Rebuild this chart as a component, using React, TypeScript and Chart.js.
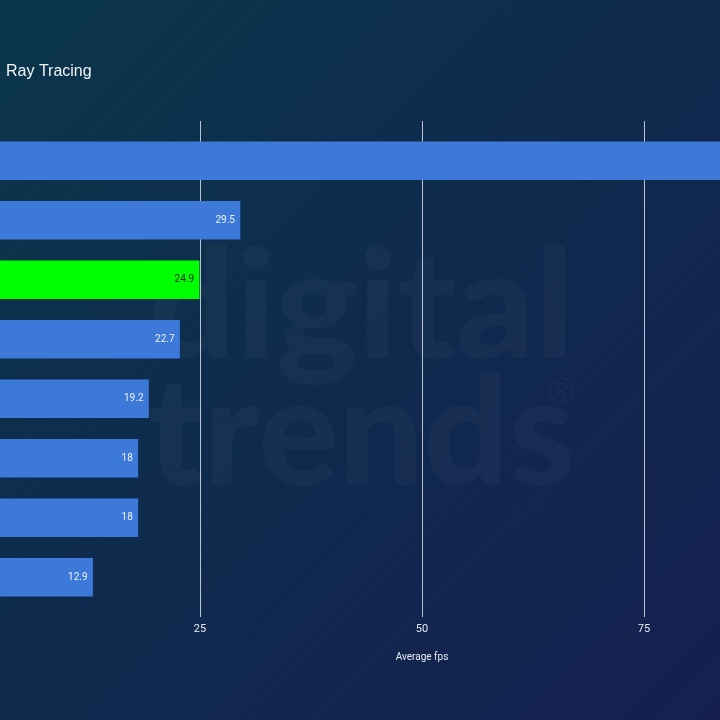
import { useEffect, useRef } from "react";
import { Chart, registerables } from "chart.js";

Chart.register(...registerables);

// ---- data ----
const categories = ["1", "2", "3", "4", "5", "6", "7", "8"];
const values = [88, 29.5, 24.9, 22.7, 19.2, 18, 18, 12.9];
const highlightIndex = 2;
const xMin = 0;
const xMax = 100;
const xTickValues = [25, 50, 75];
const titleText = "Ray Tracing";
const axisTitleText = "Average fps";
const watermarkLines = ["digital", "trends"];

const BAR_BLUE = "#3c79d9";
const BAR_GREEN = "#00ff00";

const decorPlugin = {
  id: "decor",
  beforeDatasetsDraw(chart: any) {
    const { ctx, chartArea, scales } = chart;
    // watermark
    ctx.save();
    ctx.fillStyle = "rgba(255,255,255,0.03)";
    ctx.textBaseline = "alphabetic";
    ctx.textAlign = "left";
    ctx.font = "900 150px Lato";
    const spots = [
      { x: 170, y: 358, w: 426 },
      { x: 169, y: 485, w: 428 },
    ];
    watermarkLines.forEach((t, i) => {
      const s = spots[i];
      const m = ctx.measureText(t).width;
      ctx.save();
      ctx.translate(s.x, s.y);
      ctx.scale(s.w / m, 1);
      ctx.fillText(t, 0, 0);
      ctx.restore();
    });
    ctx.font = "400 34px Lato";
    ctx.textAlign = "center";
    ctx.textBaseline = "middle";
    ctx.fillText("®", 584, 392);
    ctx.restore();

    // gridlines
    const x = scales.x;
    ctx.save();
    ctx.strokeStyle = "rgba(215,222,235,0.85)";
    ctx.lineWidth = 1;
    x.ticks.forEach((t: any) => {
      const px = Math.round(x.getPixelForValue(t.value)) + 0.5;
      ctx.beginPath();
      ctx.moveTo(px, chartArea.top - 10);
      ctx.lineTo(px, chartArea.bottom + 10);
      ctx.stroke();
    });
    ctx.restore();
  },
  afterDatasetsDraw(chart: any) {
    const { ctx } = chart;
    const meta = chart.getDatasetMeta(0);
    ctx.save();
    ctx.font = "400 10px Roboto";
    ctx.textAlign = "right";
    ctx.textBaseline = "middle";
    meta.data.forEach((bar: any, i: number) => {
      ctx.fillStyle = i === highlightIndex ? "#1c241c" : "#eef3fb";
      ctx.fillText(String(values[i]), bar.x - 5, bar.y);
    });
    ctx.restore();

    ctx.save();
    ctx.font = "400 16px 'Liberation Sans', Arial, sans-serif";
    ctx.fillStyle = "#f2f4f7";
    ctx.textAlign = "left";
    ctx.textBaseline = "middle";
    ctx.fillText(titleText, 28, 72);
    ctx.restore();
  },
};

export default function App() {
  const ref = useRef<HTMLCanvasElement | null>(null);

  useEffect(() => {
    if (!ref.current) return;
    Chart.defaults.font.family = "Roboto";
    const chart = new Chart(ref.current, {
      type: "bar",
      data: {
        labels: categories,
        datasets: [
          {
            data: values,
            backgroundColor: values.map((_, i) => (i === highlightIndex ? BAR_GREEN : BAR_BLUE)),
            borderWidth: 0,
            barThickness: 38,
          },
        ],
      },
      options: {
        indexAxis: "y",
        responsive: false,
        devicePixelRatio: 1,
        animation: false,
        layout: { padding: { top: 131, left: 0, right: 0, bottom: 0 } },
        plugins: {
          legend: { display: false },
          tooltip: { enabled: false },
          title: { display: false },
        },
        scales: {
          x: {
            type: "linear",
            min: xMin,
            max: xMax,
            afterBuildTicks: (scale: any) => {
              scale.ticks = xTickValues.map((v) => ({ value: v }));
            },
            afterFit: (scale: any) => {
              scale.height = 113;
              scale.paddingLeft = 0;
              scale.paddingRight = 0;
            },
            ticks: {
              color: "#e6ebf3",
              font: { size: 11, family: "Roboto" },
              padding: 16,
              maxRotation: 0,
            },
            grid: { display: false, drawTicks: false, tickLength: 0 },
            border: { display: false },
            title: {
              display: true,
              text: axisTitleText,
              color: "#e6ebf3",
              font: { size: 10, family: "Roboto" },
              padding: { top: 0, bottom: 57 },
            },
          },
          y: {
            type: "category",
            display: false,
            grid: { display: false },
          },
        },
      },
      plugins: [decorPlugin],
    } as any);
    return () => chart.destroy();
  }, []);

  return (
    <div
      style={{
        position: "fixed",
        left: 0,
        top: 0,
        width: 720,
        height: 720,
        overflow: "hidden",
        background: "linear-gradient(135deg, #0a364b 0%, #0f2a4d 50%, #152050 100%)",
      }}
    >
      <canvas
        ref={ref}
        width={888}
        height={720}
        style={{ position: "absolute", left: -22, top: 0, width: 888, height: 720 }}
      />
    </div>
  );
}
